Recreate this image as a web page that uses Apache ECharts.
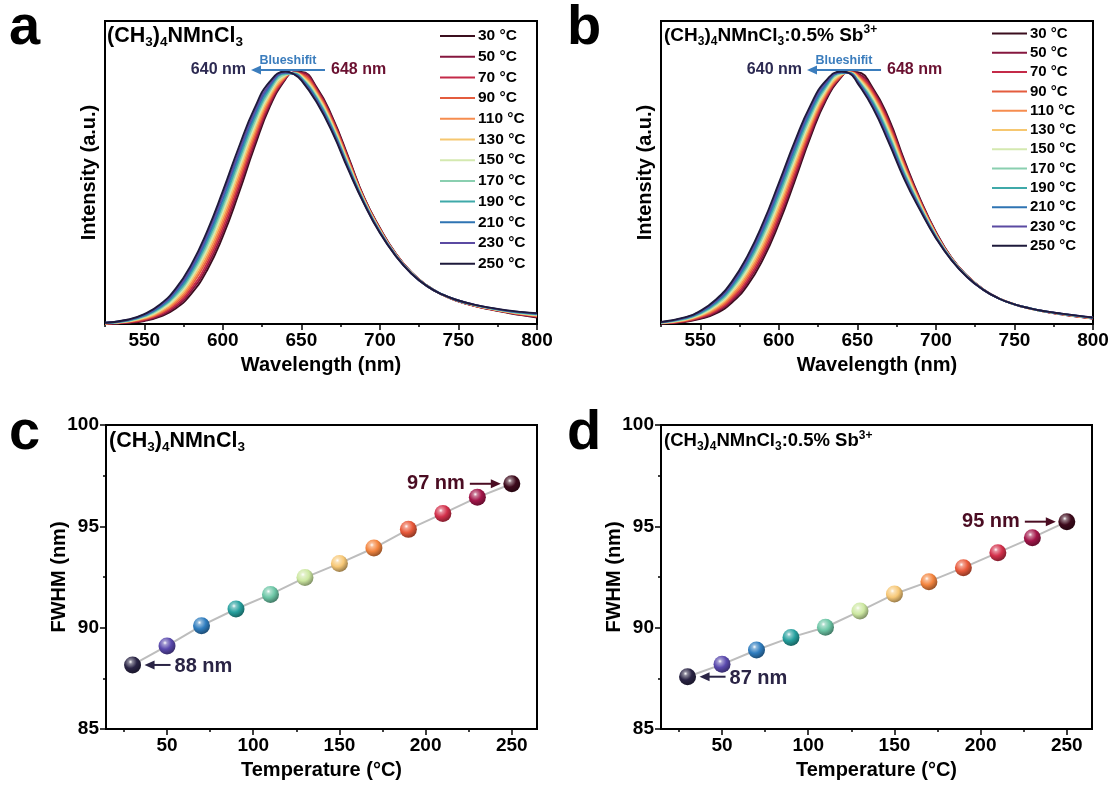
<!DOCTYPE html>
<html><head><meta charset="utf-8">
<script src="https://cdn.jsdelivr.net/npm/echarts@6/dist/echarts.min.js"></script>
<style>html,body{margin:0;padding:0;background:#fff;}#c{width:1113px;height:805px;}</style>
</head><body><div id="c"></div>
<script>
// ---------- data ----------
const wavelengths = [525,540,550,560,570,580,590,600,610,620,630,640,645,650,660,670,680,690,700,710,720,730,740,750,760,770,780,790,800];
const tempLabels = ['30 °C','50 °C','70 °C','90 °C','110 °C','130 °C','150 °C','170 °C','190 °C','210 °C','230 °C','250 °C'];
const temperatures = [30,50,70,90,110,130,150,170,190,210,230,250];

// panel a: (CH3)4NMnCl3 normalized PL spectra
const a30  = [.001,.005,.012,.029,.061,.120,.213,.347,.515,.698,.862,.971,.996,.998,.935,.815,.660,.500,.380,.280,.205,.152,.115,.090,.072,.058,.046,.035,.026];
const a50  = [.001,.006,.014,.033,.068,.131,.227,.363,.532,.712,.871,.974,.995,.995,.930,.810,.655,.498,.378,.279,.205,.152,.115,.090,.072,.059,.047,.036,.028];
const a70  = [.002,.007,.017,.038,.075,.141,.241,.380,.548,.726,.880,.976,.995,.992,.924,.804,.651,.495,.376,.278,.204,.152,.115,.091,.073,.059,.048,.037,.029];
const a90  = [.002,.009,.019,.042,.083,.152,.255,.396,.565,.740,.889,.979,.994,.989,.919,.799,.646,.493,.375,.277,.204,.151,.115,.091,.073,.060,.048,.039,.031];
const a110 = [.002,.010,.022,.046,.090,.162,.269,.412,.581,.754,.898,.982,.994,.986,.913,.793,.641,.491,.373,.276,.203,.151,.115,.091,.074,.061,.049,.040,.032];
const a130 = [.003,.011,.024,.051,.097,.173,.283,.428,.598,.768,.907,.984,.993,.983,.908,.788,.637,.489,.371,.275,.203,.151,.115,.092,.074,.061,.050,.041,.034];
const a150 = [.003,.012,.027,.055,.104,.183,.297,.445,.614,.782,.916,.987,.993,.980,.902,.782,.632,.486,.369,.275,.202,.151,.116,.092,.075,.062,.051,.042,.035];
const a170 = [.004,.013,.029,.060,.111,.194,.311,.461,.631,.796,.925,.989,.992,.977,.897,.777,.628,.484,.367,.274,.202,.151,.116,.092,.075,.062,.052,.043,.037];
const a190 = [.004,.014,.032,.064,.118,.204,.325,.477,.647,.810,.934,.992,.992,.974,.891,.771,.623,.482,.365,.273,.201,.151,.116,.092,.076,.063,.053,.044,.038];
const a210 = [.004,.016,.034,.068,.126,.215,.339,.493,.664,.824,.943,.995,.991,.971,.886,.766,.618,.480,.364,.272,.201,.150,.116,.093,.076,.064,.053,.046,.040];
const a230 = [.005,.017,.037,.073,.133,.225,.353,.510,.680,.838,.952,.997,.991,.968,.880,.760,.614,.477,.362,.271,.200,.150,.116,.093,.077,.064,.054,.047,.041];
const a250 = [.005,.018,.039,.077,.140,.236,.367,.526,.697,.852,.961,1.000,.990,.965,.875,.755,.609,.475,.360,.270,.200,.150,.116,.093,.077,.065,.055,.048,.043];

// panel b: (CH3)4NMnCl3:0.5% Sb3+ normalized PL spectra
const b30  = [.002,.008,.020,.042,.084,.153,.257,.397,.564,.738,.886,.980,.998,.997,.933,.813,.647,.495,.365,.262,.190,.138,.102,.078,.061,.048,.038,.029,.022];
const b50  = [.003,.010,.023,.047,.092,.164,.270,.412,.578,.749,.893,.982,.998,.993,.926,.804,.640,.491,.363,.261,.190,.138,.102,.078,.061,.048,.038,.029,.022];
const b70  = [.003,.011,.026,.052,.099,.174,.283,.426,.592,.761,.900,.984,.997,.989,.919,.796,.633,.487,.360,.260,.189,.138,.102,.078,.061,.048,.039,.030,.023];
const b90  = [.004,.013,.029,.057,.107,.185,.296,.441,.607,.772,.907,.985,.997,.986,.911,.787,.627,.483,.358,.259,.189,.137,.102,.078,.061,.049,.039,.030,.023];
const b110 = [.004,.015,.032,.062,.114,.195,.309,.456,.621,.784,.914,.987,.996,.982,.904,.778,.620,.479,.356,.258,.188,.137,.102,.078,.061,.049,.039,.030,.023];
const b130 = [.005,.016,.035,.067,.122,.206,.322,.470,.635,.795,.921,.989,.996,.978,.897,.770,.613,.475,.354,.257,.188,.137,.102,.078,.061,.049,.039,.031,.024];
const b150 = [.005,.018,.037,.072,.129,.216,.336,.485,.649,.807,.929,.991,.995,.974,.890,.761,.606,.470,.351,.257,.187,.137,.101,.078,.062,.049,.040,.031,.024];
const b170 = [.006,.019,.040,.077,.137,.227,.349,.499,.663,.818,.936,.993,.995,.970,.883,.753,.599,.466,.349,.256,.187,.137,.101,.078,.062,.049,.040,.032,.025];
const b190 = [.006,.021,.043,.082,.144,.237,.362,.514,.677,.830,.943,.995,.994,.966,.876,.744,.592,.462,.347,.255,.186,.137,.101,.078,.062,.049,.040,.032,.025];
const b210 = [.007,.023,.046,.087,.152,.248,.375,.529,.692,.841,.950,.996,.994,.963,.868,.735,.586,.458,.345,.254,.186,.136,.101,.078,.062,.050,.040,.032,.025];
const b230 = [.007,.024,.049,.092,.159,.258,.388,.543,.706,.853,.957,.998,.993,.959,.861,.727,.579,.454,.342,.253,.185,.136,.101,.078,.062,.050,.041,.033,.026];
const b250 = [.008,.026,.052,.097,.167,.269,.401,.558,.720,.864,.964,1.000,.993,.955,.854,.718,.572,.450,.340,.252,.185,.136,.101,.078,.062,.050,.041,.033,.026];

// FWHM (nm) vs temperature
const fwhmA = [88.16,89.10,90.10,90.92,91.64,92.47,93.17,93.93,94.85,95.63,96.43,97.10];
const fwhmB = [87.58,88.19,88.90,89.52,90.02,90.82,91.66,92.27,92.96,93.70,94.44,95.23];

// tick values
const wlLabelTicks = [550,600,650,700,750,800];
const wlMinorTicks = [525,575,625,675,725,775];
const tLabelTicks = [50,100,150,200,250];
const tMinorTicks = [25,75,125,175,225];

// ---------- style ----------
const F = 'Arial, "Liberation Sans", sans-serif';
const lineColors = ['#3b0e1e','#86173f','#c42a48','#e45c3e','#f68d4f','#f6c770','#d4e9b0','#8acfb0','#3fa9a9','#2f74b3','#5b4aa2','#1e1a3b'];
const ballColors = ['#2a2445','#5a49ad','#2f7dbf','#27a19f','#6cc6a6','#cde8a2','#f7c877','#f4853f','#e95a3b','#d3304b','#a3164a','#3e0a1c'];

function shade(hex, f){
  const n = parseInt(hex.slice(1),16);
  let r=(n>>16)&255,g=(n>>8)&255,b=n&255;
  const t = f<0?0:255, p=Math.abs(f);
  r=Math.round((t-r)*p+r); g=Math.round((t-g)*p+g); b=Math.round((t-b)*p+b);
  return 'rgb('+r+','+g+','+b+')';
}
function ball(c){
  return {type:'radial',x:0.38,y:0.32,r:0.75,colorStops:[
    {offset:0,color:'#ffffff'},{offset:0.16,color:shade(c,0.45)},
    {offset:0.5,color:c},{offset:1,color:shade(c,-0.45)}]};
}

const spectraA = [a30,a50,a70,a90,a110,a130,a150,a170,a190,a210,a230,a250];
const spectraB = [b30,b50,b70,b90,b110,b130,b150,b170,b190,b210,b230,b250];

const grids = [
  {left:105, top:21, width:432, height:303},
  {left:661, top:21, width:432, height:303},
  {left:106, top:425, width:431, height:304},
  {left:661, top:425, width:431, height:304}
].map(g=>Object.assign(g,{show:true,borderColor:'#000',borderWidth:2,backgroundColor:'transparent'}));

const axisLine = {show:true,lineStyle:{color:'#000',width:2}};
const labelStyle = {color:'#000',fontSize:19,fontWeight:'bold',fontFamily:F};
const nameStyle = {color:'#000',fontSize:20,fontWeight:'bold',fontFamily:F};

function mainX(grid,min,max,labels,name){
  return {type:'value',gridIndex:grid,min,max,position:'bottom',axisLine,
    splitLine:{show:false},
    axisTick:{show:true,customValues:labels,length:6,lineStyle:{color:'#000',width:1.5}},
    axisLabel:Object.assign({customValues:labels,margin:7},labelStyle),
    name,nameLocation:'middle',nameGap:31,nameMoveOverlap:false,nameTextStyle:nameStyle};
}
function minorX(grid,min,max,ticks){
  return {type:'value',gridIndex:grid,min,max,position:'bottom',axisLine:{show:false},
    splitLine:{show:false},axisLabel:{show:false},
    axisTick:{show:true,customValues:ticks,length:3,lineStyle:{color:'#000',width:1.5}}};
}

const xAxis = [
  mainX(0,525,800,wlLabelTicks,'Wavelength (nm)'), minorX(0,525,800,wlMinorTicks),
  mainX(1,525,800,wlLabelTicks,'Wavelength (nm)'), minorX(1,525,800,wlMinorTicks),
  mainX(2,14.6,264.6,tLabelTicks,'Temperature (°C)'), minorX(2,14.6,264.6,tMinorTicks),
  mainX(3,14.6,264.6,tLabelTicks,'Temperature (°C)'), minorX(3,14.6,264.6,tMinorTicks)
];
function specY(grid){
  return {type:'value',gridIndex:grid,min:0,max:1.2,axisLine,splitLine:{show:false},
    axisTick:{show:false},axisLabel:{show:false},
    name:'Intensity (a.u.)',nameLocation:'middle',nameGap:6,nameTextStyle:nameStyle};
}
function fwY(grid){
  return {type:'value',gridIndex:grid,min:85,max:100,interval:5,axisLine,splitLine:{show:false},
    axisTick:{show:true,length:6,lineStyle:{color:'#000',width:1.5}},
    minorTick:{show:true,splitNumber:2,length:3,lineStyle:{color:'#000',width:1.5}},
    axisLabel:Object.assign({margin:7},labelStyle),
    name:'FWHM (nm)',nameLocation:'middle',nameGap:37,nameMoveOverlap:false,nameTextStyle:nameStyle};
}
const yAxis = [specY(0),specY(1),fwY(2),fwY(3)];

const series = [];
spectraA.forEach((arr,k)=>series.push({type:'line',name:tempLabels[k],xAxisIndex:0,yAxisIndex:0,
  data:wavelengths.map((w,i)=>[w,arr[i]]),smooth:true,symbol:'none',showSymbol:false,
  lineStyle:{color:lineColors[k],width:1.9},itemStyle:{color:lineColors[k]}}));
spectraB.forEach((arr,k)=>series.push({type:'line',name:tempLabels[k],xAxisIndex:2,yAxisIndex:1,
  data:wavelengths.map((w,i)=>[w,arr[i]]),smooth:true,symbol:'none',showSymbol:false,
  lineStyle:{color:lineColors[k],width:1.9},itemStyle:{color:lineColors[k]}}));
function fwSeries(vals,xi,yi){
  return {type:'line',name:'FWHM'+yi,xAxisIndex:xi,yAxisIndex:yi,symbol:'circle',symbolSize:17,
    lineStyle:{color:'#bdbdbd',width:2},
    data:temperatures.map((t,i)=>({value:[t,vals[i]],itemStyle:{color:ball(ballColors[i]),borderWidth:0}}))};
}
series.push(fwSeries(fwhmA,4,2));
series.push(fwSeries(fwhmB,6,3));

function legend(left,top,gap,size){
  return {data:tempLabels,orient:'vertical',left,top,padding:0,itemWidth:35,itemHeight:14,itemGap:gap,
    icon:'path://M0,6 L35,6 L35,8 L0,8 Z',
    textStyle:{color:'#000',fontSize:size,fontWeight:'bold',fontFamily:F,padding:[0,0,0,-2]},selectedMode:false};
}

const chart = echarts.init(document.getElementById('c'),null,{renderer:'canvas'});
chart.setOption({animation:false,backgroundColor:'#fff',grid:grids,xAxis,yAxis,series,
  legend:[legend(440,28,4.7,15.5),legend(992,26,4.3,15)]});

// ---------- annotations ----------
const g = [];
function txt(x,y,text,size,color,align,extra){
  g.push({type:'text',x,y,z:100,style:Object.assign({text,fill:color,fontSize:size,fontWeight:'bold',fontFamily:F,
    align:align||'left',verticalAlign:'middle'},extra||{})});
}
function arrow(x1,y,x2,color,w){
  const d=Math.sign(x2-x1), hl=10, hw=4.5;
  g.push({type:'line',z:100,shape:{x1,y1:y,x2:x2-d*hl*0.7,y2:y},style:{stroke:color,lineWidth:w||2}});
  g.push({type:'polygon',z:100,shape:{points:[[x2,y],[x2-d*hl,y-hw],[x2-d*hl,y+hw]]},style:{fill:color}});
}
function richFor(sub){
  return {s:{fontSize:sub,fontWeight:'bold',fontFamily:F,lineHeight:sub,verticalAlign:'bottom',fill:'#000'},
          p:{fontSize:sub,fontWeight:'bold',fontFamily:F,lineHeight:sub,verticalAlign:'top',fill:'#000'}};
}
const t1 = '(CH{s|3}){s|4}NMnCl{s|3}';
const t2 = '(CH{s|3}){s|4}NMnCl{s|3}:0.5% Sb{p|3+}';
function title(x,y,t,size,sub){ txt(x,y,t,size,'#000','left',{rich:richFor(sub),lineHeight:size+5}); }
title(107,36,t1,21.5,13.5); title(664,36,t2,19,12); title(109,441,t1,21.5,13.5); title(664,441,t2,18.5,12);

// panel letters
txt(9,29,'a',56,'#000'); txt(567,29,'b',56,'#000'); txt(9,434,'c',56,'#000'); txt(567,434,'d',56,'#000');

// blueshift labels
function blue(x0){
  txt(x0+141,70,'640 nm',16,'#2d2a52','right');
  arrow(x0+220,70,x0+146,'#3b7dbd',1.8);
  txt(x0+183,61,'Blueshifit',12.5,'#3b7dbd','center');
  txt(x0+226,70,'648 nm',16,'#6a1030','left');
}
blue(105); blue(661);

// FWHM end labels, anchored to data points
const pA1 = chart.convertToPixel({xAxisIndex:4,yAxisIndex:2},[temperatures[11],fwhmA[11]]);
const pA0 = chart.convertToPixel({xAxisIndex:4,yAxisIndex:2},[temperatures[0],fwhmA[0]]);
const pB1 = chart.convertToPixel({xAxisIndex:6,yAxisIndex:3},[temperatures[11],fwhmB[11]]);
const pB0 = chart.convertToPixel({xAxisIndex:6,yAxisIndex:3},[temperatures[0],fwhmB[0]]);
function endLabel(p,text,color){ arrow(p[0]-42,p[1],p[0]-11,color,2); txt(p[0]-47,p[1],text,20,color,'right'); }
function startLabel(p,text,color){ arrow(p[0]+38,p[1],p[0]+12,color,2); txt(p[0]+42,p[1]+2,text,20,color,'left'); }
endLabel(pA1,'97 nm','#4a0c22'); startLabel(pA0,'88 nm','#2a2445');
endLabel(pB1,'95 nm','#4a0c22'); startLabel(pB0,'87 nm','#2a2445');

chart.setOption({graphic:{elements:g}});
</script></body></html>
